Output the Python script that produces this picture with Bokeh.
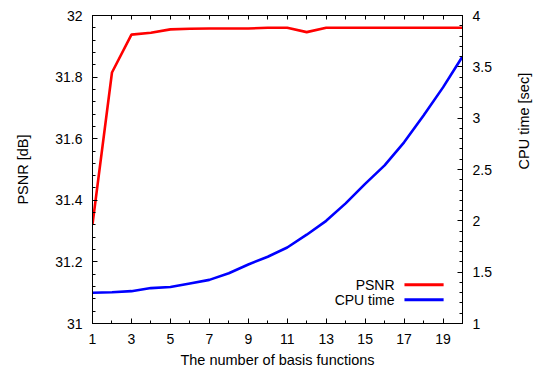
import math
from bokeh.plotting import figure
from bokeh.models import (Range1d, LinearAxis, FixedTicker, CustomJSTickFormatter,
                          Label, BoxAnnotation)
from bokeh.embed import file_html
from bokeh.resources import INLINE

# ---- data ----
n_basis = list(range(1, 21))
psnr = [31.322, 31.815, 31.938, 31.944, 31.955, 31.957, 31.958, 31.958, 31.958, 31.960,
        31.960, 31.946, 31.960, 31.960, 31.960, 31.960, 31.960, 31.960, 31.960, 31.960]
cpu_time = [1.300, 1.305, 1.315, 1.345, 1.355, 1.390, 1.425, 1.490, 1.575, 1.650,
            1.740, 1.865, 2.000, 2.170, 2.360, 2.540, 2.765, 3.025, 3.300, 3.600]
x_ticks = [1, 3, 5, 7, 9, 11, 13, 15, 17, 19]
psnr_ticks = [31.0, 31.2, 31.4, 31.6, 31.8, 32.0]
cpu_ticks = [1.0, 1.5, 2.0, 2.5, 3.0, 3.5, 4.0]
series_names = ["PSNR", "CPU time"]
colors = ["#ff0000", "#0000ff"]

FONT = "Liberation Sans"
TICK_FS = "14px"
TITLE_FS = "14.5px"

p = figure(frame_width=370, frame_height=308,
           min_border_left=92, min_border_right=60, min_border_top=15, min_border_bottom=40,
           x_range=Range1d(1, 20), y_range=Range1d(31, 32),
           output_backend="svg", toolbar_location=None, tools="")
p.extra_y_ranges = {"cpu": Range1d(1, 4)}
p.xgrid.visible = False
p.ygrid.visible = False
p.outline_line_color = "black"
p.outline_line_width = 1
p.background_fill_color = "white"
p.border_fill_color = "white"

fmt = CustomJSTickFormatter(code="return String(Math.round(tick*100)/100);")

def style_axis(ax):
    ax.axis_line_color = "black"
    ax.major_tick_line_color = "black"
    ax.minor_tick_line_color = "black"
    ax.major_tick_in = 5
    ax.major_tick_out = 0
    ax.minor_tick_in = 3
    ax.minor_tick_out = 0
    ax.major_label_text_font = FONT
    ax.major_label_text_font_size = TICK_FS
    ax.major_label_text_color = "black"
    ax.axis_label_text_font = FONT
    ax.axis_label_text_font_size = TITLE_FS
    ax.axis_label_text_font_style = "normal"
    ax.axis_label_text_color = "black"

xminor = [float(v) for v in n_basis]
# bottom axis
xa = p.xaxis[0]
xa.ticker = FixedTicker(ticks=x_ticks, minor_ticks=xminor)
xa.formatter = fmt
xa.axis_label = "The number of basis functions"
style_axis(xa)
xa.major_label_standoff = 10
xa.axis_label_standoff = 5

# top axis (tick marks only, no labels)
ta = LinearAxis(ticker=FixedTicker(ticks=[], minor_ticks=xminor), formatter=fmt)
style_axis(ta)
ta.minor_tick_in = 4
ta.major_label_standoff = 0
p.add_layout(ta, "above")

# left axis
ya = p.yaxis[0]
ya.ticker = FixedTicker(ticks=psnr_ticks,
                        minor_ticks=[round(31 + 0.04 * i, 3) for i in range(26)])
ya.formatter = fmt
ya.axis_label = "PSNR [dB]"
style_axis(ya)
ya.major_label_standoff = 10
ya.axis_label_standoff = 21

# right axis
ra = LinearAxis(y_range_name="cpu",
                ticker=FixedTicker(ticks=cpu_ticks,
                                   minor_ticks=[round(1 + 0.1 * i, 3) for i in range(31)]),
                formatter=fmt, axis_label="CPU time [sec]")
style_axis(ra)
ra.major_label_standoff = 10
ra.axis_label_standoff = 29
ra.axis_label_orientation = math.pi / 2
p.add_layout(ra, "right")

p.line(n_basis, psnr, line_color=colors[0], line_width=2.6)
p.line(n_basis, cpu_time, y_range_name="cpu", line_color=colors[1], line_width=2.6)

# manual legend (text right, sample line to the right), in data units of the main axes
leg_text_x = 16.51
leg_line_x0, leg_line_x1 = 17.02, 19.03
leg_rows_y = [31.1256, 31.0770]
half_h = 0.0048
for name, col, yy in zip(series_names, colors, leg_rows_y):
    p.add_layout(Label(x=leg_text_x, y=yy, text=name, text_align="right",
                       text_baseline="middle", text_font=FONT, text_font_size=TICK_FS,
                       text_color="black"))
    p.add_layout(BoxAnnotation(left=leg_line_x0, right=leg_line_x1,
                               bottom=yy - half_h, top=yy + half_h,
                               fill_color=col, fill_alpha=1.0, line_alpha=0))

open("out.html", "w").write(file_html(p, INLINE))
